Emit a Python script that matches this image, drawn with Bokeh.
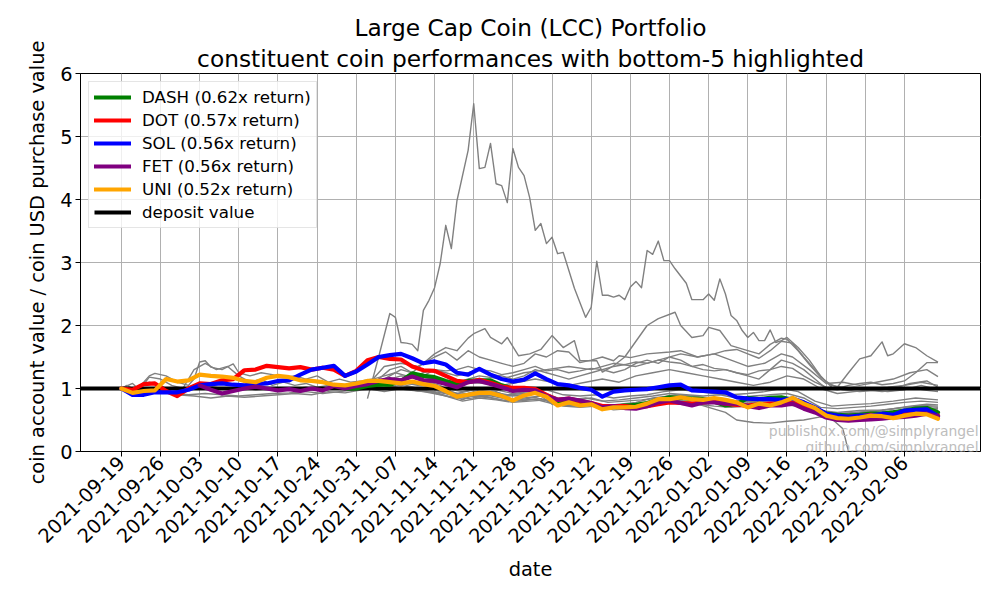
import math
import numpy as np
import pandas as pd
from bokeh.plotting import figure
from bokeh.models import (Range1d, FixedTicker, DatetimeTickFormatter, Legend,
                          LegendItem, Title, Label)
from bokeh.embed import file_html
from bokeh.resources import INLINE

# ---------------- data ----------------
start_date = "2021-09-19"
grid_days = list(range(0, 147, 2))  # every 2 days, 2021-09-19 .. 2022-02-12

tick_labels = ["2021-09-19", "2021-09-26", "2021-10-03", "2021-10-10", "2021-10-17",
               "2021-10-24", "2021-10-31", "2021-11-07", "2021-11-14", "2021-11-21",
               "2021-11-28", "2021-12-05", "2021-12-12", "2021-12-19", "2021-12-26",
               "2022-01-02", "2022-01-09", "2022-01-16", "2022-01-23", "2022-01-30",
               "2022-02-06"]
y_ticks = [0, 1, 2, 3, 4, 5, 6]
deposit_value = 1.0

coins = ["DASH", "DOT", "SOL", "FET", "UNI"]
returns = [0.62, 0.57, 0.56, 0.56, 0.52]

dash_vals = [None] * 20 + [
    1.0, 1.0, 1.04, 1.06, 1.06, 1.12, 1.24, 1.2, 1.18, 1.12,
    1.07, 1.12, 1.13, 1.13, 1.05, 1.0, 1.0, 0.97, 0.88, 0.79,
    0.81, 0.78, 0.76, 0.7, 0.71, 0.73, 0.74, 0.77, 0.82, 0.86,
    0.85, 0.84, 0.83, 0.79, 0.73, 0.75, 0.85, 0.83, 0.85, 0.86,
    0.82, 0.76, 0.68, 0.6, 0.58, 0.57, 0.58, 0.6, 0.6, 0.62,
    0.65, 0.68, 0.69, 0.62]

dot_vals = [
    1.0, 0.98, 1.07, 1.08, 0.96, 0.88, 1.0, 1.08, 1.07, 1.13,
    1.15, 1.29, 1.3, 1.36, 1.34, 1.32, 1.34, 1.3, 1.33, 1.3,
    1.2, 1.28, 1.45, 1.5, 1.47, 1.46, 1.35, 1.29, 1.28, 1.2,
    1.12, 1.1, 1.14, 1.09, 1.03, 1.01, 1.01, 0.99, 0.9, 0.82,
    0.84, 0.8, 0.77, 0.72, 0.72, 0.72, 0.7, 0.72, 0.75, 0.78,
    0.77, 0.76, 0.78, 0.8, 0.76, 0.74, 0.73, 0.75, 0.76, 0.77,
    0.8, 0.74, 0.67, 0.58, 0.55, 0.55, 0.56, 0.58, 0.57, 0.56,
    0.6, 0.62, 0.62, 0.57]

sol_vals = [
    1.0, 0.9, 0.9, 0.94, 0.94, 0.94, 0.98, 1.05, 1.07, 1.08,
    1.06, 1.05, 1.07, 1.08, 1.12, 1.13, 1.22, 1.3, 1.33, 1.36,
    1.2, 1.27, 1.38, 1.5, 1.53, 1.55, 1.48, 1.4, 1.43, 1.38,
    1.25, 1.22, 1.31, 1.22, 1.15, 1.11, 1.14, 1.24, 1.15, 1.07,
    1.05, 1.01, 0.98, 0.87, 0.95, 0.97, 0.98, 0.99, 1.02, 1.05,
    1.06, 0.97, 0.96, 0.95, 0.94, 0.86, 0.84, 0.83, 0.83, 0.82,
    0.84, 0.78, 0.7, 0.6, 0.57, 0.55, 0.57, 0.57, 0.6, 0.58,
    0.65, 0.66, 0.67, 0.56]

fet_vals = [None] * 7 + [
    1.05, 0.98, 0.92, 0.96, 1.0, 1.03, 1.0, 0.97, 0.99, 0.96,
    1.0, 0.97, 1.04, 1.0, 1.04, 1.07, 1.12, 1.15, 1.13, 1.19,
    1.13, 1.12, 1.07, 1.02, 1.1, 1.12, 1.07, 1.02, 0.96, 0.98,
    0.97, 0.88, 0.82, 0.84, 0.81, 0.77, 0.7, 0.72, 0.69, 0.68,
    0.72, 0.78, 0.81, 0.77, 0.73, 0.78, 0.78, 0.76, 0.76, 0.72,
    0.69, 0.73, 0.73, 0.76, 0.68, 0.62, 0.54, 0.5, 0.49, 0.5,
    0.51, 0.52, 0.54, 0.55, 0.57, 0.6, 0.56]

uni_vals = [
    1.0, 0.93, 0.96, 0.97, 1.15, 1.11, 1.13, 1.22, 1.2, 1.19,
    1.17, 1.12, 1.1, 1.17, 1.2, 1.18, 1.13, 1.12, 1.1, 1.06,
    1.05, 1.08, 1.12, 1.12, 1.1, 1.08, 1.11, 1.07, 1.04, 0.96,
    0.87, 0.9, 0.93, 0.93, 0.88, 0.81, 0.89, 0.93, 0.87, 0.73,
    0.78, 0.73, 0.75, 0.67, 0.7, 0.7, 0.71, 0.76, 0.83, 0.83,
    0.86, 0.83, 0.82, 0.85, 0.82, 0.78, 0.7, 0.76, 0.73, 0.78,
    0.85, 0.76, 0.69, 0.57, 0.53, 0.52, 0.54, 0.57, 0.56, 0.53,
    0.57, 0.6, 0.59, 0.52]

# other constituents: (day since start, value) vertices
gray_spike = [(44, 0.84), (46, 1.5), (48, 2.19), (49, 2.13), (50, 1.73), (51, 1.72), (52, 1.7),
              (53, 1.6), (54, 2.24), (55, 2.4), (56, 2.6), (57, 2.98), (58, 3.59), (59, 3.22),
              (60, 3.98), (62, 4.78), (63, 5.52), (64, 4.49), (65, 4.51), (66, 4.89), (67, 4.25),
              (68, 4.22), (69, 3.95), (70, 4.81), (71, 4.51), (72, 4.38), (73, 4.03), (74, 3.51),
              (75, 3.62), (76, 3.3), (77, 3.4), (78, 3.14), (79, 3.16), (81, 2.59), (83, 2.13),
              (84, 2.29), (85, 3.02), (86, 2.48), (87, 2.48), (88, 2.45), (89, 2.48), (90, 2.41),
              (91, 2.61), (92, 2.7), (93, 2.6), (94, 3.19), (95, 3.13), (96, 3.34), (97, 3.03),
              (98, 3.03), (99, 2.9), (101, 2.67), (102, 2.41), (104, 2.41), (105, 2.5), (106, 2.4),
              (107, 2.74), (108, 2.5), (109, 2.16), (110, 2.08), (111, 1.92), (112, 1.81),
              (113, 1.89), (114, 1.76), (115, 1.76), (116, 1.93), (117, 1.73), (118, 1.76),
              (119, 1.81), (121, 1.65), (123, 1.45), (125, 1.2), (127, 1.02), (129, 0.98),
              (132, 0.95), (135, 0.97), (138, 1.0), (141, 1.08), (144, 1.12), (146, 1.02)]
gray_b = [(42, 1.0), (44, 1.05), (46, 1.15), (48, 1.3), (50, 1.35), (52, 1.25), (54, 1.4),
          (56, 1.55), (58, 1.65), (60, 1.6), (62, 1.8), (63, 1.87), (65, 1.95), (66, 1.81),
          (68, 1.71), (69, 1.81), (71, 1.52), (73, 1.55), (75, 1.62), (77, 1.84), (79, 1.65),
          (81, 1.76), (82, 1.44), (85, 1.44), (86, 1.26), (88, 1.36), (90, 1.5), (92, 1.75),
          (94, 2.0), (96, 2.11), (99, 2.21), (100, 2.0), (102, 1.81), (104, 1.84), (105, 1.97),
          (107, 1.92), (109, 1.68), (112, 1.6), (114, 1.55), (116, 1.7), (118, 1.8), (119, 1.78),
          (121, 1.6), (123, 1.38), (125, 1.18), (127, 1.05), (130, 1.0), (133, 0.98), (136, 0.95),
          (139, 0.98), (142, 1.0), (144, 0.97), (146, 0.95)]
gray_c = [(42, 1.0), (45, 1.15), (47, 1.35), (50, 1.4), (53, 1.35), (56, 1.5), (58, 1.58),
          (60, 1.45), (62, 1.6), (64, 1.5), (66, 1.45), (68, 1.4), (70, 1.35), (72, 1.4),
          (74, 1.55), (76, 1.5), (78, 1.6), (80, 1.58), (82, 1.41), (84, 1.45), (86, 1.5),
          (88, 1.44), (89, 1.52), (91, 1.49), (94, 1.55), (98, 1.58), (100, 1.6), (103, 1.5),
          (106, 1.55), (108, 1.6), (110, 1.62), (112, 1.55), (114, 1.48), (116, 1.6), (118, 1.75),
          (120, 1.72), (122, 1.5), (124, 1.3), (126, 1.1), (128, 1.02), (130, 1.25), (132, 1.47),
          (134, 1.52), (136, 1.74), (137, 1.52), (138, 1.55), (140, 1.71), (142, 1.65),
          (144, 1.52), (146, 1.42)]
gray_d = [(44, 1.0), (46, 1.08), (48, 1.15), (50, 1.2), (52, 1.18), (54, 1.25), (56, 1.3),
          (58, 1.28), (60, 1.3), (62, 1.35), (64, 1.3), (66, 1.28), (68, 1.22), (70, 1.25),
          (72, 1.3), (74, 1.35), (76, 1.28), (78, 1.3), (80, 1.25), (82, 1.28), (84, 1.32),
          (86, 1.3), (88, 1.35), (90, 1.38), (92, 1.42), (94, 1.4), (96, 1.45), (98, 1.42),
          (100, 1.4), (102, 1.35), (104, 1.38), (106, 1.32), (108, 1.3), (110, 1.25), (112, 1.22),
          (114, 1.28), (116, 1.3), (118, 1.35), (120, 1.32), (122, 1.2), (124, 1.1), (126, 1.02),
          (128, 1.0), (130, 1.05), (132, 1.08), (134, 1.1), (136, 1.06), (138, 1.08), (140, 1.12),
          (142, 1.25), (144, 1.41), (146, 1.41)]
gray_e = [(44, 1.0), (46, 1.1), (48, 1.2), (50, 1.3), (52, 1.25), (54, 1.2), (56, 1.3),
          (58, 1.25), (60, 1.2), (62, 1.25), (64, 1.3), (66, 1.22), (68, 1.2), (70, 1.15),
          (72, 1.2), (74, 1.3), (76, 1.25), (78, 1.2), (80, 1.15), (82, 1.2), (84, 1.25),
          (86, 1.3), (88, 1.25), (90, 1.3), (92, 1.4), (94, 1.45), (96, 1.4), (98, 1.5),
          (100, 1.45), (102, 1.35), (104, 1.3), (106, 1.28), (108, 1.3), (110, 1.25), (112, 1.2),
          (114, 1.15), (116, 1.3), (118, 1.45), (120, 1.4), (122, 1.3), (124, 1.15), (126, 1.0),
          (128, 0.98), (131, 1.02), (134, 1.0), (137, 1.02), (140, 1.05), (143, 1.1), (146, 1.05)]
gray_f = [(44, 1.0), (47, 1.05), (50, 1.1), (53, 1.05), (56, 1.1), (59, 1.05), (62, 1.1),
          (65, 1.08), (68, 1.05), (71, 1.1), (74, 1.15), (77, 1.1), (80, 1.05), (83, 1.1),
          (86, 1.15), (89, 1.1), (92, 1.2), (95, 1.25), (98, 1.3), (101, 1.25), (104, 1.2),
          (107, 1.15), (110, 1.1), (113, 1.05), (116, 1.1), (119, 1.2), (122, 1.15), (125, 1.0),
          (128, 0.92), (131, 0.95), (134, 0.98), (137, 0.95), (140, 0.98), (143, 1.05), (146, 0.98)]
gray_g = [(44, 1.0), (48, 1.1), (52, 1.2), (56, 1.15), (60, 1.1), (64, 1.2), (68, 1.15),
          (72, 1.25), (76, 1.3), (80, 1.35), (84, 1.3), (88, 1.4), (92, 1.35), (96, 1.45),
          (100, 1.55), (103, 1.5), (106, 1.55), (109, 1.45), (112, 1.35), (115, 1.4), (118, 1.55),
          (120, 1.5), (123, 1.3), (126, 1.08), (129, 1.1), (132, 1.05), (135, 1.1), (138, 1.15),
          (141, 1.25), (144, 1.3), (146, 1.19)]
gray_h = [(44, 1.0), (47, 0.95), (50, 1.0), (53, 0.98), (56, 0.95), (59, 0.9), (62, 0.92),
          (65, 0.95), (68, 0.9), (71, 0.88), (74, 0.92), (77, 0.85), (80, 0.82), (83, 0.85),
          (86, 0.8), (89, 0.82), (92, 0.85), (95, 0.88), (98, 0.92), (101, 0.9), (104, 0.88),
          (107, 0.9), (110, 0.85), (113, 0.88), (116, 0.9), (119, 0.92), (122, 0.85), (125, 0.7),
          (128, 0.68), (131, 0.7), (134, 0.72), (137, 0.75), (140, 0.78), (143, 0.8), (146, 0.78)]
gray_i = [(44, 1.0), (46, 1.05), (48, 1.1), (50, 1.15), (52, 1.08), (54, 1.12), (56, 1.05),
          (58, 1.0), (61, 0.95), (64, 1.0), (67, 0.98), (70, 0.92), (73, 0.95), (76, 0.98),
          (79, 0.9), (82, 0.88), (85, 0.9), (88, 0.85), (91, 0.88), (94, 0.9), (97, 0.95),
          (100, 0.98), (103, 0.95), (106, 0.92), (109, 0.9), (112, 0.92), (115, 0.95), (118, 1.0),
          (121, 0.95), (124, 0.8), (127, 0.72), (130, 0.74), (134, 0.76), (138, 0.8), (142, 0.85),
          (146, 0.82)]
gray_j = [(44, 1.0), (47, 1.02), (50, 1.05), (53, 1.0), (56, 0.98), (59, 0.9), (62, 0.88),
          (65, 0.9), (68, 0.85), (71, 0.82), (74, 0.86), (77, 0.78), (80, 0.74), (83, 0.76),
          (86, 0.7), (89, 0.72), (92, 0.75), (95, 0.8), (98, 0.84), (101, 0.82), (104, 0.8),
          (107, 0.82), (110, 0.78), (113, 0.8), (116, 0.78), (119, 0.82), (122, 0.76), (125, 0.62),
          (128, 0.6), (131, 0.62), (134, 0.64), (137, 0.66), (140, 0.7), (143, 0.73), (146, 0.72)]
gray_k = [(44, 1.0), (47, 0.98), (50, 1.02), (53, 0.96), (56, 0.94), (59, 0.86), (62, 0.84),
          (65, 0.88), (68, 0.82), (71, 0.8), (74, 0.83), (77, 0.76), (80, 0.72), (83, 0.74),
          (86, 0.69), (89, 0.7), (92, 0.73), (95, 0.76), (98, 0.8), (101, 0.79), (104, 0.76),
          (107, 0.8), (110, 0.77), (113, 0.76), (116, 0.75), (119, 0.79), (122, 0.72), (125, 0.6),
          (128, 0.57), (131, 0.59), (134, 0.61), (137, 0.63), (140, 0.66), (143, 0.69), (146, 0.68)]
gray_l = [(0, 1.0), (2, 1.08), (3, 1.0), (5, 1.2), (6, 1.24), (8, 1.2), (10, 1.1), (12, 1.05),
          (13, 1.15), (14, 1.42), (15, 1.44), (16, 1.34), (18, 1.3), (20, 1.39), (21, 1.25),
          (23, 1.2), (25, 1.25), (27, 1.22), (29, 1.18), (31, 1.2), (33, 1.15), (35, 1.2),
          (37, 1.1), (39, 1.15), (41, 1.1), (43, 1.12), (45, 1.15), (47, 1.2), (49, 1.25),
          (51, 1.2), (53, 1.15), (55, 1.1), (57, 1.05), (59, 0.95), (61, 0.9), (63, 0.95),
          (65, 0.92), (67, 0.95), (69, 0.88), (72, 0.9), (75, 0.92), (77, 0.8), (80, 0.78),
          (83, 0.8), (86, 0.72), (89, 0.75), (92, 0.78), (95, 0.85), (98, 0.88), (101, 0.85),
          (104, 0.82), (107, 0.85), (110, 0.8), (113, 0.82), (116, 0.8), (119, 0.85), (122, 0.8),
          (125, 0.65), (128, 0.62), (132, 0.65), (136, 0.66), (140, 0.7), (143, 0.72), (146, 0.7)]
gray_m = [(0, 1.0), (1, 1.05), (3, 0.95), (5, 1.18), (7, 1.15), (9, 1.05), (11, 1.0), (13, 1.3),
          (15, 1.4), (17, 1.3), (19, 1.35), (21, 1.2), (23, 1.1), (25, 1.15), (27, 1.05),
          (29, 1.1), (31, 1.05), (33, 1.08), (35, 1.02), (37, 1.05), (39, 1.0), (41, 1.05),
          (43, 1.08), (45, 1.05), (47, 1.1), (49, 1.12), (51, 1.05), (53, 1.0), (55, 1.02),
          (57, 0.95), (59, 0.9), (61, 0.82), (63, 0.9), (65, 0.88), (67, 0.9), (69, 0.82),
          (72, 0.85), (75, 0.88), (77, 0.75), (80, 0.72), (83, 0.75), (86, 0.68), (89, 0.7),
          (92, 0.72), (95, 0.78), (98, 0.8), (101, 0.78), (104, 0.75), (107, 0.78), (110, 0.75),
          (113, 0.78), (116, 0.76), (119, 0.8), (122, 0.75), (125, 0.6), (128, 0.58), (132, 0.6),
          (136, 0.62), (140, 0.66), (143, 0.68), (146, 0.66)]
gray_n = [(0, 1.0), (3, 0.95), (6, 0.98), (9, 0.92), (12, 0.9), (15, 0.92), (18, 0.9),
          (21, 0.88), (24, 0.9), (27, 0.92), (30, 0.93), (33, 0.95), (36, 0.92), (39, 0.95),
          (42, 0.98), (45, 1.0), (48, 1.02), (51, 0.98), (54, 0.95), (57, 0.9), (60, 0.85),
          (63, 0.88), (66, 0.85), (69, 0.8), (72, 0.82), (75, 0.84), (78, 0.75), (81, 0.72),
          (84, 0.74), (87, 0.7), (90, 0.72), (93, 0.75), (96, 0.8), (99, 0.82), (102, 0.78),
          (105, 0.7), (108, 0.62), (110, 0.5), (113, 0.46), (116, 0.45), (119, 0.48),
          (122, 0.5), (125, 0.55), (127, 0.52), (129, 0.36), (130, 0.0), (146, 0.0)]
gray_o = [(3, 1.0), (5, 1.1), (7, 1.05), (9, 0.95), (12, 1.0), (15, 1.05), (18, 1.0),
          (21, 1.02), (24, 0.98), (27, 1.0), (30, 0.98), (33, 1.02), (36, 0.98), (39, 1.02),
          (42, 1.08), (45, 1.12), (48, 1.1), (51, 1.08), (54, 1.05), (57, 1.0), (60, 0.92),
          (63, 0.98), (66, 0.95), (69, 0.9), (72, 0.92), (75, 0.95), (78, 0.85), (81, 0.82),
          (84, 0.85), (87, 0.78), (90, 0.8), (93, 0.82), (96, 0.85), (99, 0.9), (102, 0.88),
          (105, 0.85), (108, 0.82), (111, 0.8), (114, 0.82), (117, 0.85), (120, 0.82),
          (123, 0.75), (126, 0.62), (129, 0.6), (132, 0.62), (135, 0.64), (138, 0.68),
          (141, 0.72), (144, 0.75), (146, 0.74)]
gray_p = [(7, 1.0), (10, 0.9), (13, 0.88), (16, 0.85), (19, 0.88), (22, 0.86), (25, 0.88),
          (28, 0.9), (31, 0.92), (34, 0.9), (37, 0.95), (40, 0.93), (43, 0.98), (46, 1.0),
          (49, 1.02), (52, 0.98), (55, 0.95), (58, 0.88), (61, 0.8), (64, 0.85), (67, 0.82),
          (70, 0.78), (73, 0.8), (76, 0.82), (79, 0.72), (82, 0.7), (85, 0.72), (88, 0.66),
          (91, 0.68), (94, 0.72), (97, 0.78), (100, 0.8), (103, 0.75), (106, 0.72), (109, 0.7),
          (112, 0.72), (115, 0.7), (118, 0.74), (121, 0.72), (124, 0.62), (127, 0.55),
          (130, 0.56), (134, 0.58), (138, 0.62), (142, 0.64), (146, 0.62)]

gray_series = [gray_spike, gray_b, gray_c, gray_d, gray_e, gray_f, gray_g, gray_h,
               gray_i, gray_j, gray_k, gray_l, gray_m, gray_n, gray_o, gray_p]

# ---------------- helpers ----------------
base = pd.Timestamp(start_date)


def to_dt(days):
    return [base + pd.Timedelta(hours=float(d) * 24.0) for d in days]


def to_ms(day):
    return (base + pd.Timedelta(hours=float(day) * 24.0)).value / 1e6


FONT = "DejaVu Sans"
x_start = to_ms(-7.3)
x_end = to_ms(153.6)

p = figure(width=1000, height=600, x_axis_type="datetime",
           output_backend="svg", toolbar_location=None,
           x_range=Range1d(x_start, x_end), y_range=Range1d(0, 6),
           min_border_left=80, min_border_right=20, min_border_top=73,
           min_border_bottom=149)
p.background_fill_color = "white"
p.border_fill_color = "white"
p.outline_line_color = "black"
p.outline_line_width = 1
p.outline_line_alpha = 1

# titles
p.add_layout(Title(text="constituent coin performances with bottom-5 highlighted",
                   align="center", text_font=FONT, text_font_size="23.3px",
                   text_font_style="normal", text_color="black", standoff=4), "above")
p.add_layout(Title(text="Large Cap Coin (LCC) Portfolio", align="center",
                   text_font=FONT, text_font_size="23.3px",
                   text_font_style="normal", text_color="black", standoff=0), "above")

# gray constituents
for s in gray_series:
    d = [a for a, b in s]
    v = [b for a, b in s]
    p.line(to_dt(d), v, line_color="gray", line_width=1.4, line_join="round")

# deposit line
r_dep = p.line([x_start, x_end], [deposit_value, deposit_value], line_color="black",
               line_width=4.2)

colors = ["green", "red", "blue", "purple", "orange"]
all_vals = [dash_vals, dot_vals, sol_vals, fet_vals, uni_vals]
items = []
grid_dt = to_dt(grid_days)
for name, ret, col, vals in zip(coins, returns, colors, all_vals):
    arr = np.array([np.nan if v is None else v for v in vals], dtype=float)
    r = p.line(grid_dt, arr, line_color=col, line_width=4.2, line_join="round",
               line_cap="round")
    items.append(LegendItem(label=f"{name} ({ret:.2f}x return)", renderers=[r]))
items.append(LegendItem(label="deposit value", renderers=[r_dep]))

legend = Legend(items=items, location="top_left", margin=8, padding=5,
                spacing=3, glyph_width=37, glyph_height=20, label_height=20,
                label_standoff=11, label_text_font=FONT,
                label_text_font_size="16.7px", label_text_color="black",
                border_line_color="#cccccc", border_line_width=1,
                background_fill_color="white", background_fill_alpha=0.8)
p.add_layout(legend)

# axes
tick_ms = [pd.Timestamp(t).value / 1e6 for t in tick_labels]
p.xaxis.ticker = FixedTicker(ticks=tick_ms)
fmt = "%Y-%m-%d"
p.xaxis.formatter = DatetimeTickFormatter(days=fmt, months=fmt, years=fmt, hours=fmt,
                                          hourmin=fmt, minutes=fmt, minsec=fmt,
                                          seconds=fmt, milliseconds=fmt,
                                          microseconds=fmt)
p.xaxis.major_label_orientation = math.pi / 4
p.yaxis.ticker = FixedTicker(ticks=y_ticks)
p.xaxis.axis_label = "date"
p.yaxis.axis_label = "coin account value / coin USD purchase value"
for ax in (p.xaxis, p.yaxis):
    ax.axis_label_text_font = FONT
    ax.axis_label_text_font_size = "19.4px"
    ax.axis_label_text_font_style = "normal"
    ax.axis_label_text_color = "black"
    ax.major_label_text_font = FONT
    ax.major_label_text_font_size = "19.4px"
    ax.major_label_text_color = "black"
    ax.axis_line_color = "black"
    ax.major_tick_line_color = "black"
    ax.major_tick_out = 5
    ax.major_tick_in = 0
    ax.minor_tick_line_color = None
    ax.major_label_standoff = 3
p.yaxis.axis_label_standoff = 8
p.xaxis.axis_label_standoff = 6

p.xgrid.grid_line_color = "#b0b0b0"
p.ygrid.grid_line_color = "#b0b0b0"
p.xgrid.grid_line_width = 1
p.ygrid.grid_line_width = 1

# watermark
wm_lines = ["publish0x.com/@simplyrangel", "github.com/simplyrangel"]
for txt, yv in zip(wm_lines, [0.32, 0.07]):
    p.add_layout(Label(x=x_end, y=yv, text=txt, text_align="right", x_offset=-2,
                       text_baseline="alphabetic", text_font=FONT,
                       text_font_size="13.9px", text_color="#bdbdbd"))

open("out.html", "w").write(file_html(p, INLINE))
